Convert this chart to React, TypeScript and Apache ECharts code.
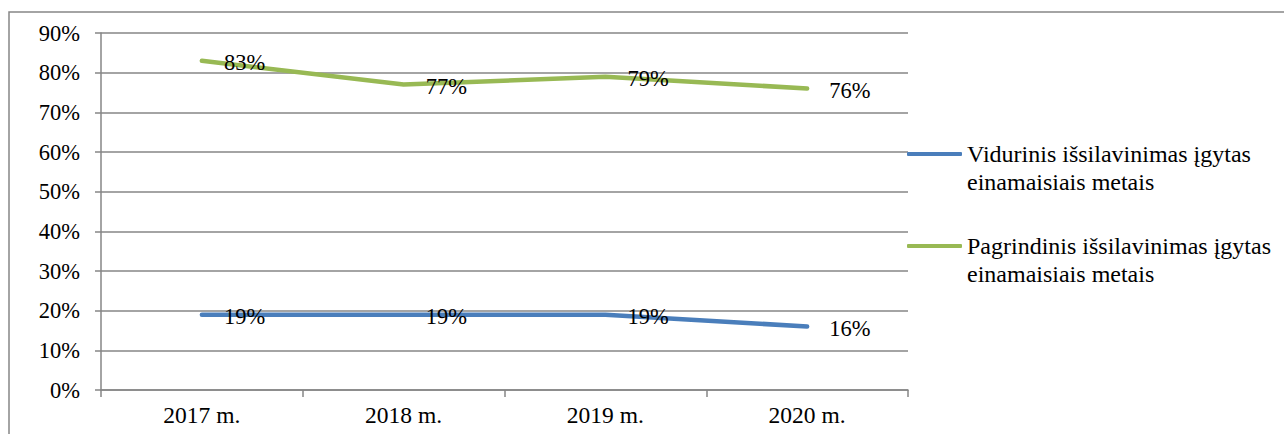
import React, { useEffect, useRef } from "react";
import * as echarts from "echarts";

const categories = ["2017 m.", "2018 m.", "2019 m.", "2020 m."];
const seriesNames = [
  "Vidurinis išsilavinimas įgytas einamaisiais metais",
  "Pagrindinis išsilavinimas įgytas einamaisiais metais",
];
const vidurinis = [0.19, 0.19, 0.19, 0.16];
const pagrindinis = [0.83, 0.77, 0.79, 0.76];
const legendLines: Record<string, string> = {
  [seriesNames[0]]: "\nVidurinis išsilavinimas įgytas\neinamaisiais metais",
  [seriesNames[1]]: "\nPagrindinis išsilavinimas įgytas\neinamaisiais metais",
};

const FONT = "Liberation Serif";
const GRAY = "#868686";

export default function App() {
  const ref = useRef<HTMLDivElement>(null);
  useEffect(() => {
    if (!ref.current) return;
    const chart = echarts.init(ref.current, null, { renderer: "svg" });
    const pct = (v: number) => Math.round(v * 100) + "%";
    const label = {
      show: true,
      position: "right" as const,
      distance: 22,
      offset: [0, 2],
      color: "#000",
      fontFamily: FONT,
      fontSize: 22.5,
      formatter: (p: any) => pct(p.value),
    };
    chart.setOption({
      animation: false,
      backgroundColor: "#fff",
      graphic: [
        {
          type: "rect",
          shape: { x: 9, y: 12, width: 1300, height: 450 },
          style: { fill: "none", stroke: GRAY, lineWidth: 1.5 },
          silent: true,
          z: -1,
        },
      ],
      grid: { left: 101, right: 376, top: 33, bottom: 44, containLabel: false },
      legend: {
        orient: "vertical",
        left: 907,
        top: 112,
        padding: 0,
        itemWidth: 55,
        itemHeight: 4,
        itemGap: 8,
        icon: "roundRect",
        formatter: (name: string) => legendLines[name] || name,
        textStyle: {
          fontFamily: FONT,
          fontSize: 24,
          color: "#000",
          lineHeight: 28,
        },
        data: seriesNames,
      },
      xAxis: {
        type: "category",
        data: categories,
        boundaryGap: true,
        axisLine: { show: true, lineStyle: { color: GRAY, width: 1.5 } },
        axisTick: { show: true, length: 7, lineStyle: { color: GRAY, width: 1.5 } },
        axisLabel: { color: "#000", fontFamily: FONT, fontSize: 23.5, margin: 13 },
        splitLine: { show: false },
      },
      yAxis: {
        type: "value",
        min: 0,
        max: 0.9,
        interval: 0.1,
        axisLine: { show: true, lineStyle: { color: GRAY, width: 1.5 } },
        axisTick: { show: true, length: 6, lineStyle: { color: GRAY, width: 1.5 } },
        axisLabel: {
          color: "#000",
          fontFamily: FONT,
          fontSize: 22.5,
          margin: 21,
          formatter: (v: number) => pct(v),
        },
        splitLine: { show: true, lineStyle: { color: GRAY, width: 1.5 } },
      },
      series: [
        {
          name: seriesNames[0],
          type: "line",
          data: vidurinis,
          symbol: "circle",
          symbolSize: 0,
          showSymbol: true,
          lineStyle: { color: "#4A7EBB", width: 4.5, cap: "round" },
          itemStyle: { color: "#4A7EBB" },
          label,
        },
        {
          name: seriesNames[1],
          type: "line",
          data: pagrindinis,
          symbol: "circle",
          symbolSize: 0,
          showSymbol: true,
          lineStyle: { color: "#98B954", width: 4.5, cap: "round" },
          itemStyle: { color: "#98B954" },
          label,
        },
      ],
    });
    return () => chart.dispose();
  }, []);
  return (
    <div
      ref={ref}
      style={{ position: "fixed", left: 0, top: 0, width: 1284, height: 434 }}
    />
  );
}
